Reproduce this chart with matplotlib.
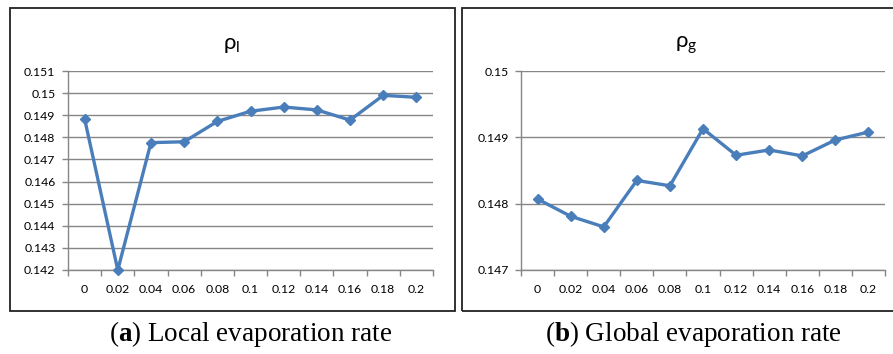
import matplotlib
matplotlib.use("Agg")
import matplotlib.pyplot as plt
from matplotlib.patches import Rectangle

# evaporation rate categories (x axis)
rates = ['0', '0.02', '0.04', '0.06', '0.08', '0.1', '0.12', '0.14', '0.16', '0.18', '0.2']

# rho_l vs local evaporation rate
rho_local = [0.14884, 0.14200, 0.14776, 0.14780, 0.14872, 0.14918,
             0.14937, 0.14924, 0.14878, 0.14990, 0.14981]

# rho_g vs global evaporation rate
rho_global = [0.14807, 0.14781, 0.14765, 0.14835, 0.14827, 0.14913,
              0.14873, 0.14881, 0.14872, 0.14896, 0.14908]

local_ticks = [0.142, 0.143, 0.144, 0.145, 0.146, 0.147, 0.148, 0.149, 0.15, 0.151]
local_ticklabels = ['0.142', '0.143', '0.144', '0.145', '0.146', '0.147', '0.148', '0.149', '0.15', '0.151']
global_ticks = [0.147, 0.148, 0.149, 0.15]
global_ticklabels = ['0.147', '0.148', '0.149', '0.15']

W, H = 893, 354
LINE = '#4A7EBB'
GRID = '#868686'

plt.rcParams['font.family'] = ['Lato', 'DejaVu Sans']
plt.rcParams['mathtext.fontset'] = 'custom'
plt.rcParams['mathtext.bf'] = 'Liberation Serif:bold'

fig = plt.figure(figsize=(W / 100, H / 100), dpi=100)


def px_axes(x0, y0, x1, y1):
    # pixel box (top-left origin) -> figure fraction axes
    return fig.add_axes([x0 / W, 1 - y1 / H, (x1 - x0) / W, (y1 - y0) / H])


def draw_panel(ax, values, ticks, ticklabels):
    ax.plot(range(len(values)), values, color=LINE, lw=2.4, marker='D',
            ms=5.5, mfc=LINE, mec=LINE, zorder=3, clip_on=False)
    ax.set_xlim(-0.5, len(values) - 0.5)
    ax.set_ylim(ticks[0], ticks[-1])
    ax.set_yticks(ticks)
    ax.set_yticklabels(ticklabels)
    ax.set_xticks(range(len(values)))
    ax.set_xticklabels(rates)
    ax.set_xticks([i - 0.5 for i in range(len(values) + 1)], minor=True)
    ax.tick_params(axis='x', which='major', length=0, pad=10, labelsize=8.8, colors='black')
    ax.tick_params(axis='x', which='minor', length=4, width=1, color=GRID, direction='out')
    ax.tick_params(axis='y', length=4, width=1, color=GRID, pad=5, labelsize=8.8, labelcolor='black')
    ax.grid(axis='y', color=GRID, lw=1)
    ax.set_axisbelow(True)
    for s in ['top', 'right']:
        ax.spines[s].set_visible(False)
    for s in ['left', 'bottom']:
        ax.spines[s].set_color(GRID)
        ax.spines[s].set_linewidth(1)


# chart frames
fig.patches.append(Rectangle((10 / W, 1 - 311 / H), 445 / W, 303 / H, transform=fig.transFigure,
                             fill=False, ec='#222222', lw=1.3))
fig.patches.append(Rectangle((462 / W, 1 - 311 / H), 460 / W, 303 / H, transform=fig.transFigure,
                             fill=False, ec='#222222', lw=1.3, clip_on=False))

ax1 = px_axes(68, 71, 433, 270)
draw_panel(ax1, rho_local, local_ticks, local_ticklabels)
ax2 = px_axes(521, 71, 885, 270)
draw_panel(ax2, rho_global, global_ticks, global_ticklabels)

fig.text(232 / W, 1 - 45 / H, r'$\mathregular{ρ_l}$', ha='center', va='center', fontsize=16)
fig.text(686 / W, 1 - 45 / H, r'$\mathregular{ρ_g}$', ha='center', va='center', fontsize=16)

fig.text(251 / W, 1 - 334 / H, r'($\mathbf{a}$) Local evaporation rate', ha='center', va='center',
         fontsize=19.5, family='Liberation Serif')
fig.text(693 / W, 1 - 334 / H, r'($\mathbf{b}$) Global evaporation rate', ha='center', va='center',
         fontsize=19.5, family='Liberation Serif')

fig.savefig('out.png', dpi=100)
